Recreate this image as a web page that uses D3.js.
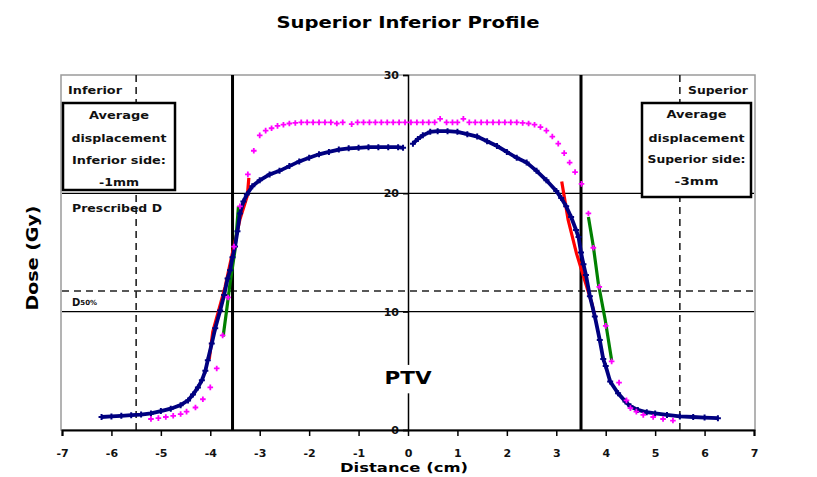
<!DOCTYPE html>
<html><head><meta charset="utf-8">
<script src="https://cdn.jsdelivr.net/npm/d3@7"></script>
<style>body{margin:0;background:#fff}svg{display:block}text{font-family:"DejaVu Sans",sans-serif}</style>
</head><body>
<svg id="c" width="817" height="477"></svg>
<script>
// ---- data ----
const xTicks = [-7,-6,-5,-4,-3,-2,-1,0,1,2,3,4,5,6,7];
const yTicks = [0,10,20,30];
const ptvEdges = [-3.55, 3.5];
const marginLines = [-5.5, 5.5];
const prescribedDose = 20;
const tenGy = 10;
const d50 = 11.75;

// measured profile (navy); null = gap
const navyX = [-6.2,-6.0,-5.8,-5.6,-5.4,-5.2,-5.0,-4.8,-4.6,-4.45,-4.35,-4.25,-4.17,-4.1,-4.05,-3.97,-3.9,-3.8,-3.72,-3.65,-3.6,-3.55,-3.5,-3.45,-3.4,-3.33,-3.26,-3.15,-3.0,-2.8,-2.6,-2.4,-2.2,-2.0,-1.8,-1.6,-1.4,-1.2,-1.0,-0.8,-0.6,-0.4,-0.2,-0.1,
  0,
  0.1,0.2,0.3,0.45,0.6,0.8,1.0,1.2,1.4,1.6,1.8,2.0,2.2,2.4,2.6,2.8,3.0,3.1,3.2,3.3,3.4,3.45,3.5,3.55,3.6,3.68,3.78,3.88,3.95,4.0,4.09,4.25,4.4,4.5,4.65,4.83,5.0,5.24,5.5,5.77,6.0,6.27];
const navyDose = [1.1,1.15,1.2,1.25,1.3,1.4,1.6,1.8,2.1,2.5,3.0,3.6,4.2,5.0,5.9,7.3,8.6,10.1,11.4,12.8,13.5,14.6,15.5,16.8,18.3,19.3,19.9,20.6,21.1,21.6,21.9,22.3,22.7,23.0,23.3,23.5,23.7,23.8,23.85,23.9,23.9,23.9,23.9,23.85,
  null,
  24.2,24.6,24.9,25.2,25.25,25.25,25.2,25.0,24.8,24.4,24.0,23.5,23.0,22.6,21.9,21.1,20.2,19.6,18.9,18.0,16.9,16.3,15.0,14.0,13.1,11.3,9.6,7.6,6.0,5.4,4.1,3.1,2.4,2.0,1.7,1.5,1.4,1.27,1.15,1.1,1.05,1.0];

// planned profile (magenta markers)
const magentaX = [-5.2,-5.05,-4.9,-4.75,-4.6,-4.48,-4.3,-4.15,-4.0,-3.87,-3.75,-3.64,-3.52,-3.4,-3.24,-3.12,-3.0,-2.88,-2.76,-2.64,-2.52,-2.4,
  -2.28,-2.16,-2.04,-1.92,-1.8,-1.68,-1.56,-1.44,-1.32,-1.14,-1.02,-0.9,-0.78,-0.66,-0.54,-0.42,-0.3,-0.18,-0.06,0.06,0.18,0.3,0.42,0.54,0.65,0.78,0.9,1.0,1.12,1.24,1.36,1.48,1.6,1.72,1.84,1.96,2.08,2.2,2.32,2.44,
  2.56,2.68,2.8,2.92,3.04,3.16,3.27,3.38,3.51,3.65,3.75,3.87,4.0,4.12,4.27,4.42,4.5,4.62,4.76,4.96,5.16,5.36];
const magentaDose = [0.93,1.0,1.1,1.2,1.35,1.55,1.9,2.6,3.6,5.2,8.0,11.2,15.5,18.9,21.6,23.6,24.9,25.3,25.5,25.7,25.8,25.9,
  25.95,26.0,26.0,26.0,26.0,26.0,26.0,25.9,26.0,25.85,26.0,26.0,26.0,26.0,26.0,26.0,26.0,26.0,26.0,26.0,26.0,26.0,26.0,26.0,26.3,26.0,26.0,26.0,26.3,26.0,26.0,26.0,26.0,26.0,26.0,26.0,26.0,26.0,25.95,25.9,
  25.8,25.6,25.3,24.8,24.2,23.4,22.6,21.8,20.8,18.3,15.4,12.1,8.8,5.8,4.0,2.5,1.85,1.55,1.27,1.1,0.93,0.8];

// fit of measured penumbra (red)
const redLeftX = [-3.22,-3.25,-3.4,-3.55,-3.7,-3.85,-3.95,-4.02];
const redLeftDose = [21.3,19.8,17.8,15.0,12.1,9.8,8.3,6.0];
const redRightX = [3.11,3.24,3.41,3.55,3.72,3.78];
const redRightDose = [21.0,17.75,14.9,13.0,10.7,9.6];
// fit of planned penumbra (green)
const greenLeftX = [-3.43,-3.5,-3.6,-3.67,-3.74];
const greenLeftDose = [18.9,15.2,12.4,10.1,7.9];
const greenRightX = [3.65,3.75,3.85,3.99,4.12];
const greenRightDose = [18.0,15.5,12.4,9.3,5.9];

// ---- drawing ----
const svg = d3.select("#c");
const x = d3.scaleLinear().domain([-7,7]).range([62,754]);
const y = d3.scaleLinear().domain([0,30]).range([430,75]);
const zip = (xs, ys) => xs.map((v,i)=>[v, ys[i]]);

// frame
svg.append("rect").attr("x",x(-7)-1).attr("y",y(30)).attr("width",x(7)-x(-7)+2).attr("height",y(0)-y(30))
  .attr("fill","none").attr("stroke","#9a9a9a").attr("stroke-width",1.5);

// horizontal reference lines
[prescribedDose, tenGy].forEach(v=>{
  svg.append("line").attr("x1",x(-7)).attr("x2",x(7)).attr("y1",y(v)).attr("y2",y(v))
    .attr("stroke","#000").attr("stroke-width",1.3);
});
svg.append("line").attr("x1",x(-7)).attr("x2",x(7)).attr("y1",y(d50)).attr("y2",y(d50))
  .attr("stroke","#222").attr("stroke-width",1.6).attr("stroke-dasharray","7,5");

// dashed margin lines
marginLines.forEach(v=>{
  svg.append("line").attr("x1",x(v)).attr("x2",x(v)).attr("y1",y(30)).attr("y2",y(0))
    .attr("stroke","#222").attr("stroke-width",1.6).attr("stroke-dasharray","7,5");
});

// PTV edges
ptvEdges.forEach(v=>{
  svg.append("line").attr("x1",x(v)).attr("x2",x(v)).attr("y1",y(30)).attr("y2",y(0))
    .attr("stroke","#000").attr("stroke-width",3);
});

// y axis at x=0
const yAxis = d3.axisLeft(y).tickValues(yTicks).tickSize(5).tickPadding(4).tickFormat(d3.format("d"));
const gy = svg.append("g").attr("transform",`translate(${x(0)},0)`).call(yAxis);
gy.select(".domain").attr("stroke","#000").attr("stroke-width",1.5);
gy.selectAll(".tick line").attr("stroke","#000").attr("stroke-width",1.3);
gy.selectAll(".tick text").attr("font-size",11).attr("font-weight","bold").attr("fill","#111");

// x axis
const xAxis = d3.axisBottom(x).tickValues(xTicks).tickSize(6).tickPadding(13).tickFormat(d3.format("d"));
const gx = svg.append("g").attr("transform",`translate(0,${y(0)})`).call(xAxis);
gx.select(".domain").attr("stroke","#000").attr("stroke-width",2);
gx.selectAll(".tick line").attr("stroke","#000").attr("stroke-width",1.5);
gx.selectAll(".tick text").attr("font-size",11).attr("font-weight","bold").attr("fill","#111")
  .text(d=> d<0 ? "-"+Math.abs(d) : d);

// PTV label with white background breaking the axis
svg.append("rect").attr("x",x(0)-4).attr("y",y(5.5)).attr("width",8).attr("height",y(3.1)-y(5.5)).attr("fill","#fff");
svg.append("text").attr("x",x(0)).attr("y",y(3.9)).attr("text-anchor","middle").attr("font-size",18)
  .attr("font-weight","bold").attr("textLength",47).attr("lengthAdjust","spacingAndGlyphs").text("PTV");

// lines
const line = d3.line().defined(d=>d[1]!==null).x(d=>x(d[0])).y(d=>y(d[1]));
const plus = "M-3,0H3M0,-3V3";

[[redLeftX,redLeftDose],[redRightX,redRightDose]].forEach(([a,b])=>{
  svg.append("path").attr("d",line(zip(a,b))).attr("fill","none").attr("stroke","#ff0000").attr("stroke-width",3.2);
});
[[greenLeftX,greenLeftDose],[greenRightX,greenRightDose]].forEach(([a,b])=>{
  svg.append("path").attr("d",line(zip(a,b))).attr("fill","none").attr("stroke","#008000").attr("stroke-width",3.2);
});

const navy = zip(navyX, navyDose);
svg.append("path").attr("d",line(navy)).attr("fill","none").attr("stroke","#000080").attr("stroke-width",3.8);
svg.append("g").selectAll("path").data(navy.filter(d=>d[1]!==null)).join("path")
  .attr("d",plus).attr("transform",d=>`translate(${x(d[0])},${y(d[1])})`)
  .attr("stroke","#000080").attr("stroke-width",2);

svg.append("g").selectAll("path").data(zip(magentaX, magentaDose)).join("path")
  .attr("d","M-2.8,0H2.8M0,-2.8V2.8").attr("transform",d=>`translate(${x(d[0])},${y(d[1])})`)
  .attr("stroke","#ff00ff").attr("stroke-width",1.8);

// corner labels
const small = (tx,ty,str,len,anchor)=>svg.append("text").attr("x",tx).attr("y",ty).attr("font-size",10)
  .attr("font-weight","bold").attr("text-anchor",anchor||"start").attr("dominant-baseline","central")
  .attr("textLength",len).attr("lengthAdjust","spacingAndGlyphs").attr("fill","#111").text(str);

svg.append("rect").attr("x",63).attr("y",77).attr("width",70).attr("height",25).attr("fill","#fff");
small(68,90,"Inferior",54);
svg.append("rect").attr("x",684).attr("y",77).attr("width",68).attr("height",25).attr("fill","#fff");
small(748,90,"Superior",60,"end");

// boxes
function box(x0,y0,w,h,lines){
  svg.append("rect").attr("x",x0).attr("y",y0).attr("width",w).attr("height",h)
    .attr("fill","#fff").attr("stroke","#000").attr("stroke-width",2.5);
  const cx = x0+w/2;
  lines.forEach(([s,yy,len])=>small(cx,yy,s,len,"middle"));
}
box(63,103,112,87,[["Average",115,60],["displacement",138,95],["Inferior side:",160,94],["-1mm",182,40]]);
box(642,103,109,94,[["Average",114,60],["displacement",138,96],["Superior side:",159,98],["-3mm",181,44]]);

// inline labels
small(72,208,"Prescribed D",90);
const dl = svg.append("text").attr("x",72).attr("y",302).attr("font-size",10).attr("font-weight","bold")
  .attr("dominant-baseline","central").attr("fill","#111").text("D");
dl.append("tspan").attr("font-size",7).attr("dy",1).text("50%");

// titles
svg.append("text").attr("x",408).attr("y",28).attr("text-anchor","middle").attr("font-size",16)
  .attr("font-weight","bold").attr("textLength",263).attr("lengthAdjust","spacingAndGlyphs").text("Superior Inferior Profile");
svg.append("text").attr("x",404).attr("y",472).attr("text-anchor","middle").attr("font-size",12)
  .attr("font-weight","bold").attr("textLength",128).attr("lengthAdjust","spacingAndGlyphs").text("Distance (cm)");
svg.append("text").attr("transform","translate(38,258) rotate(-90)").attr("text-anchor","middle").attr("font-size",16)
  .attr("font-weight","bold").attr("textLength",105).attr("lengthAdjust","spacingAndGlyphs").text("Dose (Gy)");
</script>
</body></html>
